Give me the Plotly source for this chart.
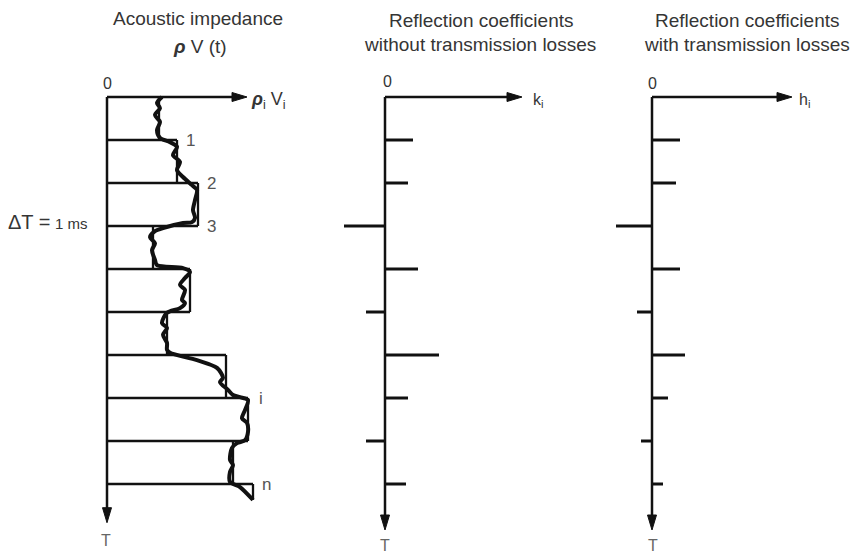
import plotly.graph_objects as go

W, H = 862, 556

# Layered earth model: layer tops (ms) and acoustic impedance of each layer
layer_top = [0, 1, 2, 3, 4, 5, 6, 7, 8, 9]
layer_imp = [5.2, 7.0, 9.1, 4.6, 8.3, 6.0, 11.9, 14.1, 12.6, 14.6]
last_layer_end = 9.37

# Continuous impedance log rho*V(t)
curve_imp = [5.5, 5.0, 5.3, 4.8, 5.3, 5.0, 5.3, 6.3, 7.0, 6.6, 7.3, 7.0, 7.6, 8.5, 9.0,
             8.8, 8.6, 8.8, 8.5, 7.6, 5.6, 4.8, 4.3, 4.8, 4.5, 4.8, 5.0, 7.6, 8.3, 7.8,
             7.3, 7.8, 7.5, 7.8, 7.3, 6.0, 5.5, 6.0, 5.6, 6.0, 6.0, 6.3, 9.0, 11.0, 11.6,
             11.3, 12.1, 12.6, 13.3, 14.1, 13.8, 13.5, 14.0, 14.1, 13.8, 13.0, 12.5, 12.3,
             12.6, 12.3, 12.3, 13.3, 14.6]
curve_t = [0.00, 0.14, 0.26, 0.42, 0.58, 0.77, 0.95, 1.05, 1.16, 1.35, 1.51, 1.70, 1.86, 2.05, 2.16,
           2.40, 2.63, 2.81, 2.91, 2.93, 3.05, 3.12, 3.26, 3.40, 3.56, 3.79, 3.91, 3.98, 4.07, 4.21,
           4.37, 4.49, 4.72, 4.79, 4.91, 5.02, 5.26, 5.37, 5.53, 5.72, 5.88, 5.95, 6.12, 6.30, 6.53,
           6.63, 6.81, 6.93, 6.98, 7.05, 7.28, 7.47, 7.58, 7.79, 7.98, 8.05, 8.16, 8.44,
           8.56, 8.72, 8.95, 9.07, 9.37]

# Reflection coefficients at each interface
refl_t = [1, 2, 3, 4, 5, 6, 7, 8, 9]
k_vals = [0.14, 0.115, -0.205, 0.165, -0.095, 0.27, 0.115, -0.095, 0.105]
h_vals = [0.14, 0.12, -0.18, 0.14, -0.075, 0.165, 0.08, -0.055, 0.055]

# Interface labels
interface_labels = {1: "1", 2: "2", 3: "3", 7: "i", 9: "n"}

# Pixel scales of the three panels (px per unit)
PX_IMP = 10.0
PX_REF = 200.0
PX_T = 43.0

INK = "#111111"
TXT = "#353535"
FONT = "Liberation Sans"

fig = go.Figure()


def seg_trace(xs, ys, xaxis, width):
    fig.add_trace(go.Scatter(x=xs, y=ys, mode="lines", xaxis=xaxis, yaxis="y",
                             line=dict(color=INK, width=width), hoverinfo="skip"))


def head(tip_x, tip_y, direction, xaxis, px_x):
    length, half = 15.0, 4.5
    if direction == "right":
        xs = [tip_x, tip_x - length / px_x, tip_x - length / px_x, tip_x]
        ys = [tip_y, tip_y - half / PX_T, tip_y + half / PX_T, tip_y]
    else:
        xs = [tip_x, tip_x - half / px_x, tip_x + half / px_x, tip_x]
        ys = [tip_y, tip_y - length / PX_T, tip_y - length / PX_T, tip_y]
    fig.add_trace(go.Scatter(x=xs, y=ys, mode="lines", fill="toself", fillcolor=INK,
                             xaxis=xaxis, yaxis="y", line=dict(color=INK, width=1),
                             hoverinfo="skip"))


# ---- Panel 1: stepped impedance model and continuous log ----
bx, by = [], []
n = len(layer_imp)
for i in range(n):
    t0 = layer_top[i]
    t1 = layer_top[i + 1] if i + 1 < n else last_layer_end
    bx += [layer_imp[i], layer_imp[i], None]
    by += [t0, t1, None]
    if i > 0:
        bx += [0, max(layer_imp[i - 1], layer_imp[i]), None]
        by += [t0, t0, None]
seg_trace(bx, by, "x", 2.3)

fig.add_trace(go.Scatter(x=curve_imp, y=curve_t, mode="lines", xaxis="x", yaxis="y",
                         line=dict(color=INK, width=4, shape="spline", smoothing=0.8),
                         hoverinfo="skip"))

imp_tip, t_tip1 = 14.0, 9.9
seg_trace([0, imp_tip - 1.0], [0, 0], "x", 2.5)
seg_trace([0, 0], [0, t_tip1 - 0.2], "x", 2.5)
head(imp_tip, 0, "right", "x", PX_IMP)
head(0, t_tip1, "down", "x", PX_IMP)

# ---- Panels 2 and 3: reflection coefficient spikes ----
t_tip = 10.07
for xa, vals, tip in (("x2", k_vals, 0.685), ("x3", h_vals, 0.70)):
    sx, sy = [], []
    for t, v in zip(refl_t, vals):
        sx += [0, v, None]
        sy += [t, t, None]
    seg_trace(sx, sy, xa, 3)
    seg_trace([0, tip - 0.05], [0, 0], xa, 2.5)
    seg_trace([0, 0], [0, t_tip - 0.2], xa, 2.5)
    head(tip, 0, "right", xa, PX_REF)
    head(0, t_tip, "down", xa, PX_REF)

annotations = []


def ptext(text, px, py, size, xanchor="center", color=TXT):
    annotations.append(dict(text=text, x=px / W, y=1 - py / H, xref="paper", yref="paper",
                            xanchor=xanchor, yanchor="middle", showarrow=False,
                            font=dict(family=FONT, size=size, color=color)))


ptext("Acoustic impedance", 198, 18, 19)
ptext("<b><i>ρ</i></b> V (t)", 200, 46, 19)
ptext("Reflection coefficients", 481, 20, 19)
ptext("without transmission losses", 480, 45, 19)
ptext("Reflection coefficients", 747, 20, 19)
ptext("with transmission losses", 747, 45, 19)
ptext("0", 107, 84, 16)
ptext("0", 387, 82, 16)
ptext("0", 652, 84, 16)
ptext("<b><i>ρ</i></b><sub>i</sub> V<sub>i</sub>", 249, 101, 18, "left")
ptext("k<sub>i</sub>", 531, 101, 16, "left")
ptext("h<sub>i</sub>", 797, 101, 16, "left")
ptext("T", 106, 540, 16, color="#666666")
ptext("T", 385, 545, 16, color="#666666")
ptext("T", 653, 545, 16, color="#666666")
ptext("ΔT =", 6, 222, 20, "left")
ptext("1 ms", 53, 224, 15, "left")

for idx, lab in interface_labels.items():
    xpos = max(layer_imp[idx - 1], layer_imp[idx]) + 1.3
    annotations.append(dict(text=lab, x=xpos, y=layer_top[idx], xref="x", yref="y",
                            xanchor="center", yanchor="middle", showarrow=False,
                            font=dict(family=FONT, size=17, color="#555555")))

hidden = dict(visible=False, showgrid=False, zeroline=False, fixedrange=True)
fig.update_layout(
    width=W, height=H,
    margin=dict(l=0, r=0, t=0, b=0),
    paper_bgcolor="white", plot_bgcolor="white",
    showlegend=False,
    xaxis=dict(domain=[0, 300 / W], range=[-107 / PX_IMP, (300 - 107) / PX_IMP], anchor="y", **hidden),
    xaxis2=dict(domain=[300 / W, 590 / W], range=[(300 - 385) / PX_REF, (590 - 385) / PX_REF], anchor="y", **hidden),
    xaxis3=dict(domain=[590 / W, 1], range=[(590 - 652) / PX_REF, (862 - 652) / PX_REF], anchor="y", **hidden),
    yaxis=dict(domain=[0, 1], range=[(H - 97) / PX_T, -97 / PX_T], anchor="x", **hidden),
    annotations=annotations,
)

fig.write_html("out.html")
